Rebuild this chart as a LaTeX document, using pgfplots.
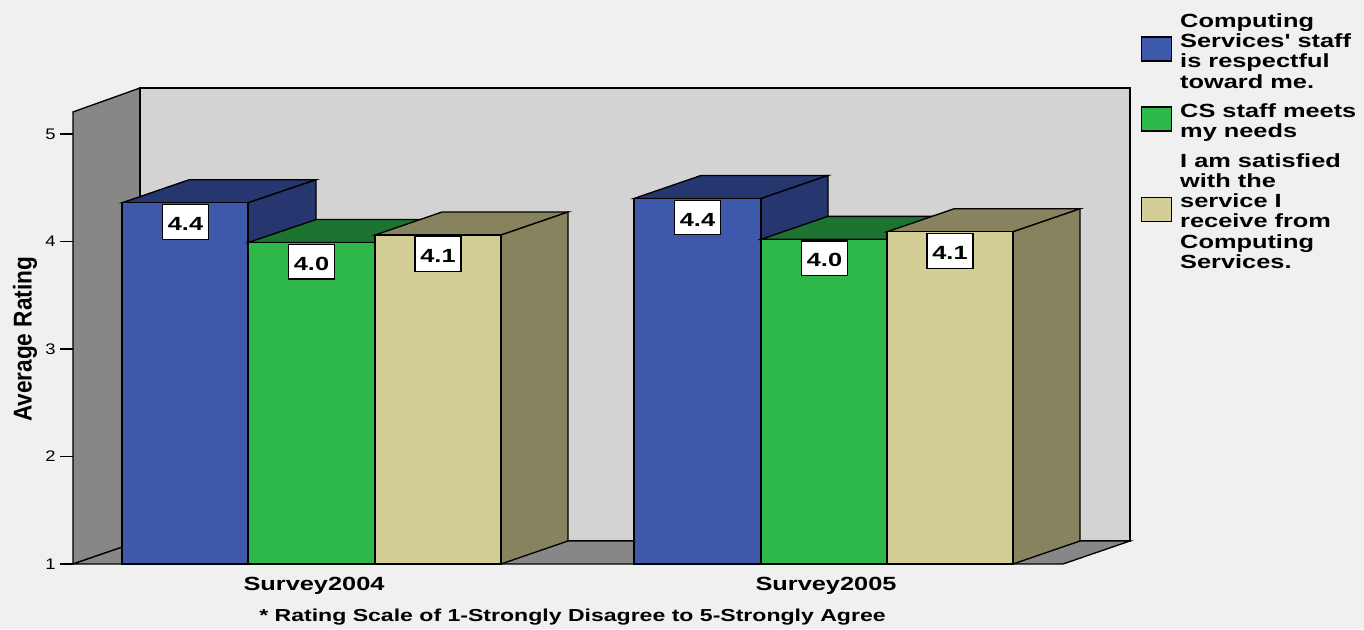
\documentclass[border=0pt]{standalone}
\usepackage{pgfplots}
\pgfplotsset{compat=1.18}
\usepackage{fontspec}
\setmainfont{Liberation Sans}
\newfontfamily\wide[FakeStretch=1.33]{Liberation Sans}
\newfontfamily\widetick[FakeStretch=1.2]{Liberation Sans}
\newfontfamily\narrow[FakeStretch=0.88]{Liberation Sans}
\definecolor{pagebg}{HTML}{F0F0F0}
\definecolor{wallside}{HTML}{878787}
\definecolor{wallback}{HTML}{D3D3D3}
\definecolor{bluefront}{HTML}{3E59AB}
\definecolor{blueshade}{HTML}{26366F}
\definecolor{greenfront}{HTML}{2EB84A}
\definecolor{greenshade}{HTML}{1D7430}
\definecolor{tanfront}{HTML}{D3CD96}
\definecolor{tanshade}{HTML}{87835E}
\begin{document}
\begin{tikzpicture}
% page background, 1 px = 0.75 pt
\fill[pagebg] (0pt,0pt) rectangle (1023pt,471.75pt);
\begin{axis}[
  at={(54.75pt,48.75pt)}, anchor=south west,
  x=0.75pt, y=80.625pt,
  xmin=73, xmax=1364, ymin=1, ymax=6.2465,
  clip=false,
  axis line style={draw=none},
  axis x line*=bottom, axis y line*=left,
  tick align=outside,
  ytick={1,2,3,4,5},
  yticklabel style={font=\fontsize{11.5}{13}\widetick, /pgf/number format/assume math mode=true},
  y tick style={black, line width=0.9pt},
  major tick length=9.5pt,
  xtick={314,826},
  xticklabels={Survey2004,Survey2005},
  x tick style={draw=none},
  xticklabel style={font=\fontsize{14.3}{15}\wide\bfseries, anchor=center, yshift=-7pt},
  xlabel={* Rating Scale of 1-Strongly Disagree to 5-Strongly Agree},
  every axis x label/.style={at={(axis cs:572.5,0.51)}, anchor=center, font=\fontsize{13}{14}\wide\bfseries},
  ylabel={Average Rating},
  every axis y label/.style={at={(axis cs:25,3.09)}, anchor=center, rotate=90, font=\fontsize{19.3}{21}\narrow\bfseries},
  legend style={at={(axis cs:1141,6.146)}, anchor=north west, draw=none, fill=none,
    inner sep=0pt, outer sep=0pt, row sep=6.2pt, column sep=4pt,
    font=\fontsize{14.3}{15.2}\wide\bfseries,
    cells={anchor=west, align=left}},
  legend image code/.code={\draw[#1, line width=0.9pt] (0,-6.9pt) rectangle (22.5pt,11.1pt);},
  every axis plot/.append style={draw=black, line width=1pt, line join=miter},
]
% legend swatches
\addlegendimage{fill=bluefront}
\addlegendentry{Computing\\Services' staff\\is respectful\\toward me.}
\addlegendimage{fill=greenfront}
\addlegendentry{CS staff meets\\my needs}
\addlegendimage{fill=tanfront}
\addlegendentry{I am satisfied\\with the\\service I\\receive from\\Computing\\Services.}

% chart box: side wall, back wall, floor
\addplot[fill=wallside, forget plot] coordinates {(73,1) (73,5.205) (140,5.428) (140,1.214)} --cycle;
\addplot[fill=wallback, forget plot] coordinates {(140,1.214) (140,5.428) (1130,5.428) (1130,1.214)} --cycle;
\addplot[fill=wallside, forget plot] coordinates {(73,1) (140,1.214) (1130,1.214) (1063,1)} --cycle;

% Survey2004
\addplot[fill=blueshade, forget plot] coordinates {(122,4.36) (189,4.574) (316,4.574) (248,4.36)} --cycle;
\addplot[fill=blueshade, forget plot] coordinates {(248,1) (248,4.36) (316,4.574) (316,1.214)} --cycle;
\addplot[fill=bluefront, forget plot] coordinates {(122,1) (122,4.36) (248,4.36) (248,1)} --cycle;

\addplot[fill=greenshade, forget plot] coordinates {(248,3.99) (316,4.204) (442,4.204) (375,3.99)} --cycle;
\addplot[fill=greenshade, forget plot] coordinates {(375,1) (375,3.99) (442,4.204) (442,1.214)} --cycle;
\addplot[fill=greenfront, forget plot] coordinates {(248,1) (248,3.99) (375,3.99) (375,1)} --cycle;

\addplot[fill=tanshade, forget plot] coordinates {(375,4.06) (442,4.274) (568,4.274) (501,4.06)} --cycle;
\addplot[fill=tanshade, forget plot] coordinates {(501,1) (501,4.06) (568,4.274) (568,1.214)} --cycle;
\addplot[fill=tanfront, forget plot] coordinates {(375,1) (375,4.06) (501,4.06) (501,1)} --cycle;

% Survey2005
\addplot[fill=blueshade, forget plot] coordinates {(634,4.40) (701,4.614) (828,4.614) (761,4.40)} --cycle;
\addplot[fill=blueshade, forget plot] coordinates {(761,1) (761,4.40) (828,4.614) (828,1.214)} --cycle;
\addplot[fill=bluefront, forget plot] coordinates {(634,1) (634,4.40) (761,4.40) (761,1)} --cycle;

\addplot[fill=greenshade, forget plot] coordinates {(761,4.02) (828,4.234) (954,4.234) (887,4.02)} --cycle;
\addplot[fill=greenshade, forget plot] coordinates {(887,1) (887,4.02) (954,4.234) (954,1.214)} --cycle;
\addplot[fill=greenfront, forget plot] coordinates {(761,1) (761,4.02) (887,4.02) (887,1)} --cycle;

\addplot[fill=tanshade, forget plot] coordinates {(887,4.09) (954,4.304) (1080,4.304) (1013,4.09)} --cycle;
\addplot[fill=tanshade, forget plot] coordinates {(1013,1) (1013,4.09) (1080,4.304) (1080,1.214)} --cycle;
\addplot[fill=tanfront, forget plot] coordinates {(887,1) (887,4.09) (1013,4.09) (1013,1)} --cycle;

% value labels, rounded to one decimal
\addplot[forget plot, draw=none, mark=none, only marks,
  point meta=explicit,
  nodes near coords,
  nodes near coords align={below},
  every node near coord/.append style={
    fill=white, draw=black, line width=0.9pt, inner sep=0pt,
    minimum width=34.5pt, minimum height=26pt, yshift=-0.8pt,
    text height=12.8pt, text depth=0pt,
    font=\fontsize{14.3}{15}\wide\bfseries,
    /pgf/number format/fixed, /pgf/number format/fixed zerofill,
    /pgf/number format/precision=1, /pgf/number format/assume math mode=true},
] coordinates {
  (185.5,4.36) [4.36]
  (311.5,3.99) [3.99]
  (438,4.06) [4.06]
  (697.5,4.40) [4.40]
  (824.5,4.02) [4.02]
  (950,4.09) [4.09]
};
\end{axis}
\end{tikzpicture}
\end{document}
